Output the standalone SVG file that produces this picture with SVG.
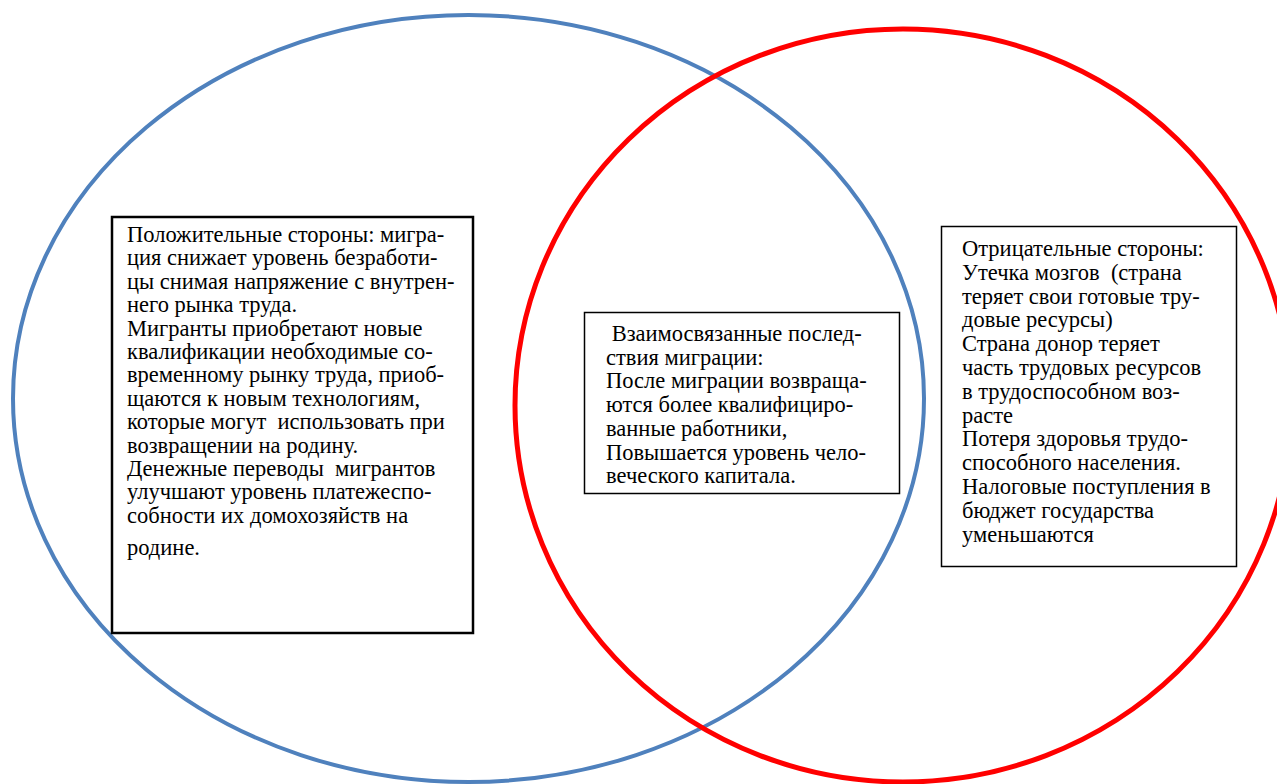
<svg xmlns="http://www.w3.org/2000/svg" width="1277" height="784" viewBox="0 0 1277 784">
<style>
.t{font-family:'Liberation Serif','Times New Roman',serif;font-size:22.5px;fill:#000;white-space:pre}
.box{fill:#fff;stroke:#000}
</style>
<rect width="1277" height="784" fill="#fff"/>
<g id="circles">
<ellipse id="blue" cx="468.5" cy="398.5" rx="455.5" ry="383.5" fill="none" stroke="#4F81BD" stroke-width="4"/>
<ellipse id="red" cx="903" cy="405.5" rx="388" ry="376.5" fill="none" stroke="#FF0000" stroke-width="5"/>
</g>
<g id="connectors"></g>
<g id="left">
<rect class="box" x="112" y="217" width="361" height="416" stroke-width="2.5"/>
<text class="t" font-family="Liberation Serif, serif" xml:space="preserve"><tspan x="127" y="242">Положительные стороны: мигра-</tspan><tspan x="127" y="265.4">ция снижает уровень безработи-</tspan><tspan x="127" y="288.8">цы снимая напряжение с внутрен-</tspan><tspan x="127" y="312.2">него рынка труда.</tspan><tspan x="127" y="335.6">Мигранты приобретают новые</tspan><tspan x="127" y="359">квалификации необходимые со-</tspan><tspan x="127" y="382.4">временному рынку труда, приоб-</tspan><tspan x="127" y="405.8">щаются к новым технологиям,</tspan><tspan x="127" y="429.2">которые могут  использовать при</tspan><tspan x="127" y="452.6">возвращении на родину.</tspan><tspan x="127" y="476">Денежные переводы  мигрантов</tspan><tspan x="127" y="499.4">улучшают уровень платежеспо-</tspan><tspan x="127" y="522.8">собности их домохозяйств на</tspan><tspan x="127" y="555">родине.</tspan></text>
</g>
<g id="middle">
<rect class="box" x="584.5" y="312.5" width="315" height="181" stroke-width="1.5"/>
<text class="t" font-family="Liberation Serif, serif" xml:space="preserve"><tspan x="606" y="341"> Взаимосвязанные послед-</tspan><tspan x="606" y="364.7">ствия миграции:</tspan><tspan x="606" y="388.4">После миграции возвраща-</tspan><tspan x="606" y="412.1">ются более квалифициро-</tspan><tspan x="606" y="435.8">ванные работники,</tspan><tspan x="606" y="459.5">Повышается уровень чело-</tspan><tspan x="606" y="483.2">веческого капитала.</tspan></text>
</g>
<g id="right">
<rect class="box" x="941.5" y="226.5" width="295" height="340" stroke-width="1.5"/>
<text class="t" font-family="Liberation Serif, serif" xml:space="preserve"><tspan x="962" y="256">Отрицательные стороны:</tspan><tspan x="962" y="279.8">Утечка мозгов  (страна</tspan><tspan x="962" y="303.6">теряет свои готовые тру-</tspan><tspan x="962" y="327.4">довые ресурсы)</tspan><tspan x="962" y="351.2">Страна донор теряет</tspan><tspan x="962" y="375">часть трудовых ресурсов</tspan><tspan x="962" y="398.8">в трудоспособном воз-</tspan><tspan x="962" y="422.6">расте</tspan><tspan x="962" y="446.4">Потеря здоровья трудо-</tspan><tspan x="962" y="470.2">способного населения.</tspan><tspan x="962" y="494">Налоговые поступления в</tspan><tspan x="962" y="517.8">бюджет государства</tspan><tspan x="962" y="541.6">уменьшаются</tspan></text>
</g>
</svg>
